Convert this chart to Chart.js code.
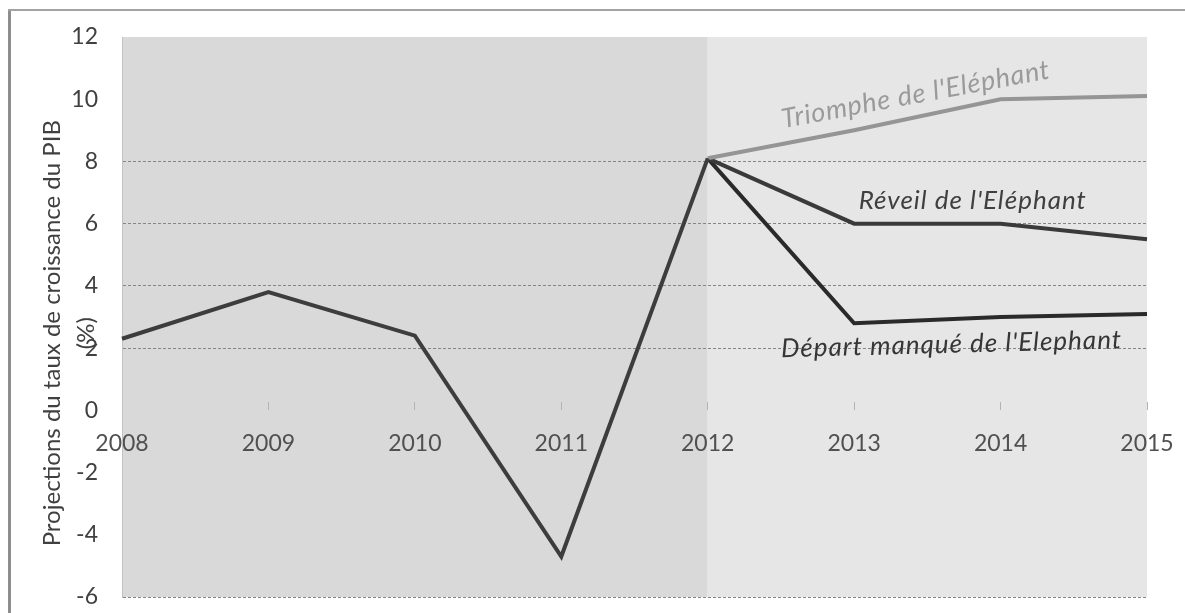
<!DOCTYPE html>
<html lang="fr">
<head>
<meta charset="utf-8">
<title>Projections du taux de croissance du PIB</title>
<script src="https://cdn.jsdelivr.net/npm/chart.js@4.4.1/dist/chart.umd.min.js"></script>
<style>
  html, body { margin: 0; padding: 0; background: #ffffff; }
  #wrap { position: relative; width: 1185px; height: 613px; }
  canvas { display: block; }
</style>
</head>
<body>
<div id="wrap"><canvas id="chart" width="1185" height="613"></canvas></div>
<script>
// Années et séries (taux de croissance du PIB, %)
const years = ['2008', '2009', '2010', '2011', '2012', '2013', '2014', '2015'];
const historique = [2.3, 3.8, 2.4, -4.7, 8.1, null, null, null];
const triomphe = [null, null, null, null, 8.1, 9.0, 10.0, 10.1];
const reveil = [null, null, null, null, 8.1, 6.0, 6.0, 5.5];
const departManque = [null, null, null, null, 8.1, 2.8, 3.0, 3.1];

// Axe vertical
const yMin = -6;
const yMax = 12;
const yStep = 2;
const dashedGridValues = [8, 6, 4, 2, -6];

// Textes
const scenarioNames = ["Triomphe de l'Eléphant", "Réveil de l'Eléphant", "Départ manqué de l'Elephant"];
const axisTitle = ['Projections du taux de croissance du PIB', '(%)'];
const projectionStart = '2012';

const FONT = 'Lato, "Open Sans", "DejaVu Sans", sans-serif';

// Placement des étiquettes de scénario, en coordonnées de données
const scenarioLabelLayout = [
  { at: [5.42, 10.15], angle: -10.6, color: '#9a9a9a', size: 27, spacing: 0.8 },
  { at: [5.81, 6.75], angle: 0, color: '#3f3f3f', size: 26, spacing: 1 },
  { at: [5.665, 2.12], angle: -1.5, color: '#363636', size: 26, spacing: 1 }
];

// les étiquettes d'axe débordent volontairement de la zone de tracé
function noScalePadding(scale) {
  scale.paddingLeft = 0;
  scale.paddingRight = 0;
  scale.paddingTop = 0;
  scale.paddingBottom = 0;
}

const decorPlugin = {
  id: 'decor',
  beforeDraw(chart) {
    const { ctx, chartArea, scales } = chart;
    ctx.save();
    ctx.fillStyle = '#ffffff';
    ctx.fillRect(0, 0, chart.width, chart.height);

    // cadre extérieur
    ctx.fillStyle = '#8e8e8e';
    ctx.fillRect(8, 9, 3, chart.height - 9);
    ctx.fillStyle = '#a3a3a3';
    ctx.fillRect(8, 9, chart.width - 8, 2);

    // fonds : période observée / période projetée
    const split = scales.x.getPixelForValue(years.indexOf(projectionStart));
    ctx.fillStyle = '#d9d9d9';
    ctx.fillRect(chartArea.left, chartArea.top, split - chartArea.left, chartArea.bottom - chartArea.top);
    ctx.fillStyle = '#e6e6e6';
    ctx.fillRect(split, chartArea.top, chartArea.right - split, chartArea.bottom - chartArea.top);
    ctx.restore();
  },
  afterDraw(chart) {
    const { ctx, scales } = chart;
    ctx.save();

    // titre de l'axe vertical
    ctx.fillStyle = '#404040';
    ctx.font = '24px ' + FONT;
    ctx.textAlign = 'center';
    ctx.textBaseline = 'middle';
    const titleCenterY = scales.y.getPixelForValue(2.48);
    [[52, axisTitle[0]], [86, axisTitle[1]]].forEach(([x, t]) => {
      ctx.save();
      ctx.translate(x, titleCenterY);
      ctx.rotate(-Math.PI / 2);
      ctx.fillText(t, 0, 0);
      ctx.restore();
    });

    // étiquettes des scénarios
    scenarioNames.forEach((name, i) => {
      const l = scenarioLabelLayout[i];
      const px = scales.x.getPixelForValue(l.at[0]);
      const py = scales.y.getPixelForValue(l.at[1]);
      ctx.save();
      ctx.font = 'italic ' + l.size + 'px ' + FONT;
      if ('letterSpacing' in ctx) ctx.letterSpacing = l.spacing + 'px';
      ctx.translate(px, py);
      ctx.rotate(l.angle * Math.PI / 180);
      ctx.fillStyle = l.color;
      ctx.fillText(name, 0, 0);
      ctx.restore();
    });
    ctx.restore();
  }
};

const lineStyle = (color) => ({
  borderColor: color,
  backgroundColor: color,
  borderWidth: 4,
  pointRadius: 0,
  pointHoverRadius: 0,
  tension: 0,
  fill: false,
  borderJoinStyle: 'miter',
  spanGaps: false
});

new Chart(document.getElementById('chart'), {
  type: 'line',
  data: {
    labels: years,
    datasets: [
      Object.assign({ label: 'Historique', data: historique }, lineStyle('#3d3d3d')),
      Object.assign({ label: scenarioNames[0], data: triomphe }, lineStyle('#959595')),
      Object.assign({ label: scenarioNames[1], data: reveil }, lineStyle('#3a3a3a')),
      Object.assign({ label: scenarioNames[2], data: departManque }, lineStyle('#2a2a2a'))
    ]
  },
  options: {
    responsive: false,
    animation: false,
    devicePixelRatio: 1,
    layout: { padding: { top: 37, right: 38, bottom: 16, left: 0 } },
    plugins: {
      legend: { display: false },
      tooltip: { enabled: false },
      title: { display: false }
    },
    scales: {
      x: {
        type: 'category',
        offset: false,
        position: { y: 0 },
        afterFit: noScalePadding,
        grid: {
          drawOnChartArea: false,
          drawTicks: true,
          tickLength: -8,
          color: '#b3b3b3',
          tickColor: '#b3b3b3',
          lineWidth: 1
        },
        border: { display: false },
        ticks: {
          autoSkip: false,
          maxRotation: 0,
          minRotation: 0,
          padding: 27,
          color: '#505050',
          font: { family: FONT, size: 23 }
        }
      },
      y: {
        type: 'linear',
        min: yMin,
        max: yMax,
        afterFit(scale) {
          scale.width = 122;
          noScalePadding(scale);
        },
        ticks: {
          stepSize: yStep,
          padding: 24,
          color: '#404040',
          font: { family: FONT, size: 23 }
        },
        grid: {
          drawTicks: false,
          lineWidth: 1,
          color: (ctx) => dashedGridValues.includes(ctx.tick && ctx.tick.value) ? '#858585' : 'rgba(0,0,0,0)'
        },
        border: { display: true, color: '#c2c2c2', width: 1, dash: [3, 2] }
      }
    }
  },
  plugins: [decorPlugin]
});
</script>
</body>
</html>
